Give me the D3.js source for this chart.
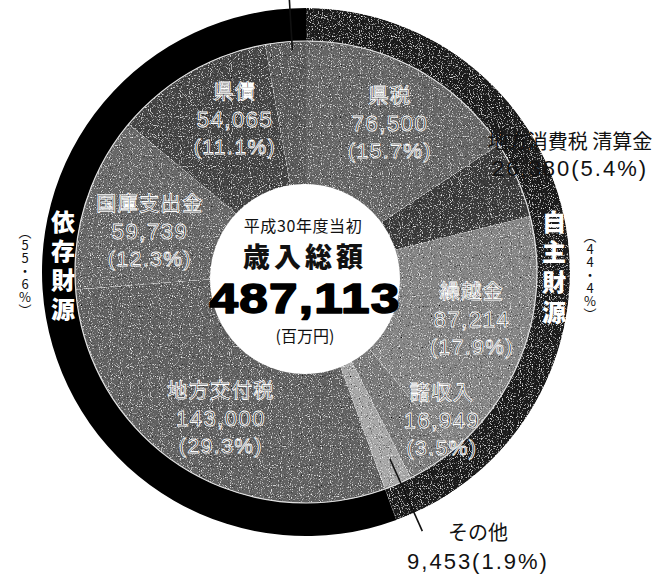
<!DOCTYPE html>
<html><head><meta charset="utf-8">
<script src="https://cdn.jsdelivr.net/npm/d3@7"></script>
<style>
html,body{margin:0;padding:0;background:#fff;}
svg{display:block;}
</style></head>
<body>
<svg id="chart" width="672" height="577"></svg>
<script>
// ---- data ----
const categories = ["県税","地方消費税 清算金","繰越金","諸収入","その他","地方交付税","国庫支出金","県債","(上部欄外)"];
const values     = [76500, 26380, 87214, 16949, 9453, 143000, 59739, 54065, 13813];
const percents   = ["15.7","5.4","17.9","3.5","1.9","29.3","12.3","11.1",""];
const groupNames = ["自主財源","依存財源"];
const groupValues= [216496, 270617];
const groupPercents = ["44.4","55.6"];
const titleLines = ["平成30年度当初","歳入総額","487,113","(百万円)"];

// ---- layout ----
const cx = 306, cy = 272;
const rHole = 95, rPie = 231, rRing = 264;
const JP  = "'Noto Sans CJK JP', 'Noto Sans', sans-serif";
const NUM = "'Liberation Sans', Arial, sans-serif";
const svg = d3.select("#chart");

const defs = svg.append("defs");
const f = defs.append("filter").attr("id","grain").attr("x",0).attr("y",0).attr("width",1).attr("height",1);
f.append("feTurbulence").attr("type","fractalNoise").attr("baseFrequency",0.9).attr("numOctaves",1).attr("seed",4).attr("result","n");
f.append("feColorMatrix").attr("in","n").attr("type","matrix")
  .attr("values","0 0 0 0 1  0 0 0 0 1  0 0 0 0 1  4 0 0 0 -2.25").attr("result","w");
f.append("feColorMatrix").attr("in","n").attr("type","matrix")
  .attr("values","0 0 0 0 0  0 0 0 0 0  0 0 0 0 0  0 -4 0 0 1.75").attr("result","b");
const fm = f.append("feMerge").attr("result","m");
fm.append("feMergeNode").attr("in","SourceGraphic");
fm.append("feMergeNode").attr("in","w");
fm.append("feMergeNode").attr("in","b");
f.append("feComposite").attr("in","m").attr("in2","SourceGraphic").attr("operator","in");

const g = svg.append("g").attr("transform", `translate(${cx},${cy})`);

const fills = ["#666666","#3a3a3a","#858585","#7a7a7a","#a8a8a8","#626262","#686868","#444444","#5a5a5a"];
const ringFills = ["#1f1f1f","#000000"];

const pie = d3.pie().sort(null).value(d => d).startAngle(0).endAngle(2*Math.PI);
const arcs = pie(values);
const ringArcs = pie(groupValues);

const ringArc = d3.arc().innerRadius(rPie).outerRadius(rRing);
g.selectAll("path.ring").data(ringArcs).join("path").attr("class","ring")
  .attr("d", ringArc).attr("fill", (d,i) => ringFills[i])
  .attr("filter", (d,i) => i === 0 ? "url(#grain)" : null);

const sliceArc = d3.arc().innerRadius(0).outerRadius(rPie);
g.selectAll("path.slice").data(arcs).join("path").attr("class","slice")
  .attr("d", sliceArc).attr("fill", (d,i) => fills[i]).attr("filter","url(#grain)");

// thin light border between pie and ring
g.append("circle").attr("r", rPie).attr("fill","none").attr("stroke","#e0e0e0").attr("stroke-width",1.2);

// hole
svg.append("circle").attr("cx",305).attr("cy",279).attr("r", rHole).attr("fill","#fff");

// ---- labels inside slices ----
const fmt = d3.format(",");
const inner = [
  {i:0, x:390, y:94},
  {i:2, x:472, y:290},
  {i:3, x:442, y:391},
  {i:5, x:221, y:389},
  {i:6, x:150, y:202},
  {i:7, x:235, y:90}
];
inner.forEach(o => {
  const common = s => s.attr("text-anchor","middle").attr("dominant-baseline","central")
    .attr("fill","#262626").attr("stroke","#ffffff").attr("stroke-width",0.85);
  svg.append("text").call(common).attr("x",o.x).attr("y",o.y)
    .style("font-family",JP).attr("font-size",20).attr("letter-spacing",1.5).text(categories[o.i]);
  svg.append("text").call(common).attr("x",o.x).attr("y",o.y+29)
    .style("font-family",NUM).attr("font-size",22).attr("letter-spacing",1.5).text(fmt(values[o.i]));
  svg.append("text").call(common).attr("x",o.x).attr("y",o.y+56)
    .style("font-family",NUM).attr("font-size",21).attr("letter-spacing",1.5).text("(" + percents[o.i] + "%)");
});

// outside labels (black)
function outLabel(i, x, y1, y2) {
  svg.append("text").attr("x",x).attr("y",y1).attr("text-anchor","middle").attr("dominant-baseline","central")
    .style("font-family",JP).attr("fill","#111").attr("font-size",20).text(categories[i]);
  svg.append("text").attr("x",x).attr("y",y2).attr("text-anchor","middle").attr("dominant-baseline","central")
    .style("font-family",NUM).attr("fill","#111").attr("font-size",22).attr("letter-spacing",2)
    .text(fmt(values[i]) + "(" + percents[i] + "%)");
}
outLabel(1, 570, 140, 168);
outLabel(4, 478, 531, 561);

// leader for その他
const a4 = (arcs[4].startAngle + arcs[4].endAngle)/2 - 0.012;
g.append("line")
  .attr("x1", Math.sin(a4)*205).attr("y1", -Math.cos(a4)*205)
  .attr("x2", Math.sin(a4)*284).attr("y2", -Math.cos(a4)*284)
  .attr("stroke","#111").attr("stroke-width",1.6);
// leader for the small top slice (its label lies outside the picture)
const a8 = (arcs[8].startAngle + arcs[8].endAngle)/2 + 0.028;
g.append("line")
  .attr("x1", Math.sin(a8)*222).attr("y1", -Math.cos(a8)*222)
  .attr("x2", Math.sin(a8)*300).attr("y2", -Math.cos(a8)*300)
  .attr("stroke","#111").attr("stroke-width",1.6);

// ---- centre ----
const cent = (y, size) => svg.append("text").attr("x",305).attr("y",y).attr("text-anchor","middle")
  .attr("dominant-baseline","central").style("font-family",JP).attr("fill","#111").attr("font-size",size);
cent(225, 16).attr("x",303).attr("letter-spacing",0.6).text(titleLines[0]);
cent(255.5, 27).attr("font-weight",900).attr("letter-spacing",4).text(titleLines[1]);
svg.append("text").attr("transform","translate(305,298.5) scale(1.22,1)")
  .attr("text-anchor","middle").attr("dominant-baseline","central")
  .style("font-family",NUM).attr("font-size",42).attr("font-weight",700).attr("fill","#000")
  .attr("stroke","#000").attr("stroke-width",1.6).attr("stroke-linejoin","round")
  .attr("letter-spacing",1).text(titleLines[2]);
cent(335, 16).text(titleLines[3]);

// ---- vertical ring labels ----
function vtext(str, x, yTop, size, spacing, fill, weight) {
  svg.append("text").attr("x",x).attr("y",yTop)
    .style("writing-mode","vertical-rl").style("text-orientation","upright").style("font-family",JP)
    .attr("font-size",size).attr("font-weight",weight).attr("fill",fill)
    .attr("letter-spacing",spacing).text(str);
}
vtext(groupNames[1], 63, 210, 24, 5, "#fff", 900);
vtext(groupNames[0], 554, 210, 24, 6, "#fff", 900);
vtext("（" + groupPercents[1].replace(".","・") + "%）", 25, 226, 13, 0, "#111", 400);
vtext("（" + groupPercents[0].replace(".","・") + "%）", 590, 230, 13, 0, "#111", 400);
</script>
</body></html>
